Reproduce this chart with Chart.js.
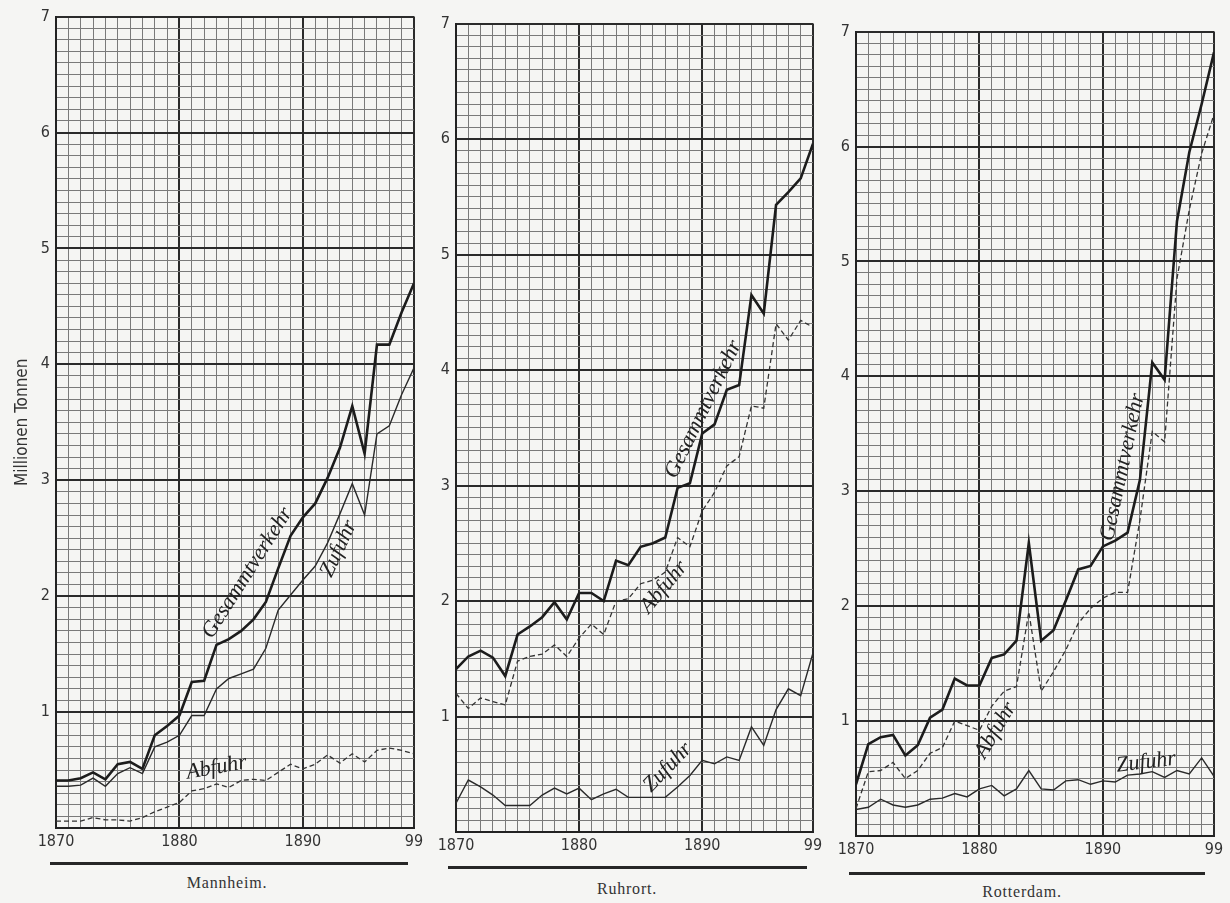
<!DOCTYPE html>
<html>
<head>
<meta charset="utf-8">
<script src="https://cdn.jsdelivr.net/npm/chart.js@4.4.0/dist/chart.umd.min.js"></script>
<style>
  body { margin: 0; background: #f5f5f3; }
  #page { position: relative; width: 1230px; height: 903px; overflow: hidden; }
  canvas { position: absolute; }
  .rule { position: absolute; height: 3px; background: #262626; }
  .city { position: absolute; width: 200px; text-align: center; font-family: "Liberation Serif", serif;
          font-size: 16px; letter-spacing: 0.8px; color: #333; }
</style>
</head>
<body>
<div id="page">
  <canvas id="chartMannheim" width="430" height="857" style="left:0px;top:1px"></canvas>
  <canvas id="chartRuhrort" width="417" height="854" style="left:412px;top:8px"></canvas>
  <canvas id="chartRotterdam" width="418" height="850" style="left:812px;top:16px"></canvas>

  <div class="rule" style="left:50px;top:862px;width:358px"></div>
  <div class="rule" style="left:448px;top:866px;width:359px"></div>
  <div class="rule" style="left:849px;top:872px;width:356px"></div>
  <div class="city" style="left:127px;top:874px">Mannheim.</div>
  <div class="city" style="left:527px;top:880px">Ruhrort.</div>
  <div class="city" style="left:922px;top:883px">Rotterdam.</div>
</div>
<script>
// Jahre 1870 - 1899
var jahre = [1870,1871,1872,1873,1874,1875,1876,1877,1878,1879,
             1880,1881,1882,1883,1884,1885,1886,1887,1888,1889,
             1890,1891,1892,1893,1894,1895,1896,1897,1898,1899];

// Mannheim (Millionen Tonnen)
var mannheimGesammt = [0.41,0.41,0.43,0.48,0.42,0.55,0.57,0.51,0.80,0.88,
                       0.97,1.26,1.27,1.58,1.63,1.70,1.80,1.95,2.24,2.52,
                       2.68,2.80,3.02,3.28,3.64,3.23,4.17,4.17,4.45,4.70];
var mannheimZufuhr  = [0.36,0.36,0.37,0.43,0.36,0.47,0.52,0.47,0.70,0.74,
                       0.80,0.97,0.97,1.20,1.29,1.33,1.37,1.55,1.88,2.01,
                       2.14,2.26,2.46,2.71,2.97,2.70,3.40,3.47,3.74,3.97];
var mannheimAbfuhr  = [0.06,0.06,0.06,0.09,0.07,0.07,0.06,0.09,0.14,0.18,
                       0.22,0.32,0.34,0.38,0.35,0.41,0.42,0.41,0.48,0.55,
                       0.51,0.55,0.63,0.56,0.64,0.57,0.67,0.69,0.67,0.64];

// Ruhrort
var ruhrortGesammt = [1.41,1.52,1.57,1.51,1.35,1.71,1.78,1.86,1.99,1.84,
                      2.07,2.07,2.00,2.35,2.31,2.47,2.50,2.55,2.98,3.02,
                      3.45,3.53,3.83,3.87,4.65,4.49,5.43,5.54,5.66,5.96];
var ruhrortAbfuhr  = [1.20,1.07,1.16,1.13,1.10,1.48,1.52,1.54,1.62,1.52,
                      1.68,1.80,1.71,2.00,2.02,2.15,2.18,2.25,2.55,2.47,
                      2.78,2.94,3.17,3.25,3.69,3.67,4.40,4.26,4.43,4.37];
var ruhrortZufuhr  = [0.25,0.45,0.39,0.32,0.23,0.23,0.23,0.32,0.38,0.33,
                      0.38,0.28,0.33,0.37,0.30,0.30,0.30,0.30,0.39,0.49,
                      0.62,0.59,0.65,0.62,0.91,0.75,1.06,1.24,1.18,1.55];

// Rotterdam
var rotterdamGesammt = [0.45,0.80,0.86,0.88,0.70,0.79,1.03,1.10,1.37,1.31,
                        1.31,1.55,1.58,1.70,2.55,1.70,1.79,2.05,2.32,2.35,
                        2.52,2.57,2.64,3.10,4.12,3.97,5.35,5.95,6.37,6.82];
var rotterdamAbfuhr  = [0.24,0.56,0.57,0.64,0.50,0.57,0.72,0.77,1.00,0.96,
                        0.92,1.13,1.26,1.30,1.95,1.26,1.43,1.62,1.85,1.98,
                        2.07,2.12,2.12,2.75,3.52,3.43,4.85,5.45,5.94,6.28];
var rotterdamZufuhr  = [0.23,0.25,0.32,0.27,0.25,0.27,0.32,0.33,0.37,0.34,
                        0.41,0.44,0.35,0.41,0.57,0.41,0.40,0.48,0.49,0.45,
                        0.48,0.47,0.53,0.54,0.56,0.51,0.57,0.54,0.68,0.52];

// Achsenbeschriftung
var xTickWerte = [1870, 1880, 1890, 1899];
var xTickText  = ['1870', '1880', '1890', '99'];
var yTickText  = ['1', '2', '3', '4', '5', '6', '7'];

var tickFont = { family: "'Liberation Sans Narrow', 'DejaVu Sans Condensed', sans-serif", size: 16 };
var schrift = "italic 22px 'Liberation Serif', serif";

function punkte(werte) {
  return jahre.map(function (j, i) { return { x: j, y: werte[i] }; });
}

// Beschriftung an den Linien
var linienText = {
  id: 'linienText',
  afterDatasetsDraw: function (chart, args, opts) {
    var c = chart.ctx;
    (opts.notes || []).forEach(function (n) {
      var px = chart.scales.x.getPixelForValue(n.jahr);
      var py = chart.scales.y.getPixelForValue(n.wert);
      c.save();
      c.translate(px, py);
      c.rotate(n.winkel * Math.PI / 180);
      c.font = schrift;
      c.fillStyle = '#222';
      c.textAlign = 'center';
      c.textBaseline = 'middle';
      c.fillText(n.text, 0, 0);
      c.restore();
    });
  }
};

function makePanel(id, gesammt, zufuhr, abfuhr, notes, yBreite, mitTitel) {
  var cxt = document.getElementById(id);
  return new Chart(cxt, {
    type: 'line',
    data: {
      datasets: [
        { label: 'Gesammtverkehr', data: punkte(gesammt), borderColor: '#1c1c1c', borderWidth: 2.6 },
        { label: 'Zufuhr', data: punkte(zufuhr), borderColor: '#2a2a2a', borderWidth: 1.4 },
        { label: 'Abfuhr', data: punkte(abfuhr), borderColor: '#333', borderWidth: 1.3, borderDash: [5, 3] }
      ]
    },
    options: {
      responsive: false,
      animation: false,
      elements: { point: { radius: 0 }, line: { tension: 0, fill: false } },
      layout: { padding: { top: 12, right: 16, left: 0, bottom: 0 } },
      plugins: { legend: { display: false }, tooltip: { enabled: false }, linienText: { notes: notes } },
      scales: {
        x: {
          type: 'linear', min: 1870, max: 1899,
          afterFit: function (s) { s.height = 30; },
          border: { display: true, color: '#222', width: 2 },
          grid: {
            drawTicks: false,
            color: function (ctx) { var v = ctx.tick.value; return (v % 10 === 0 || v === 1899) ? '#2b2b2b' : '#7a7a7a'; },
            lineWidth: function (ctx) { var v = ctx.tick.value; return (v % 10 === 0 || v === 1899) ? 2 : 1; }
          },
          ticks: {
            stepSize: 1, autoSkip: false, maxRotation: 0, padding: 4,
            color: '#333', font: tickFont,
            callback: function (v) { var i = xTickWerte.indexOf(v); return i >= 0 ? xTickText[i] : ''; }
          }
        },
        y: {
          min: 0, max: 7,
          afterFit: function (s) { s.width = yBreite; },
          border: { display: true, color: '#222', width: 2 },
          title: {
            display: mitTitel, text: 'Millionen Tonnen', color: '#333',
            font: { family: "'Liberation Sans Narrow', 'DejaVu Sans Condensed', sans-serif", size: 17 },
            padding: { top: 12, bottom: 0 }
          },
          grid: {
            drawTicks: false,
            color: function (ctx) { return Number.isInteger(ctx.tick.value) ? '#2b2b2b' : '#7a7a7a'; },
            lineWidth: function (ctx) { return Number.isInteger(ctx.tick.value) ? 2 : 1; }
          },
          ticks: {
            stepSize: 0.1, autoSkip: false, padding: 6,
            color: '#333', font: tickFont,
            callback: function (v) {
              if (!Number.isInteger(v) || v === 0) return '';
              return yTickText[v - 1];
            }
          }
        }
      }
    },
    plugins: [linienText]
  });
}

makePanel('chartMannheim', mannheimGesammt, mannheimZufuhr, mannheimAbfuhr, [
  { text: 'Gesammtverkehr', jahr: 1885.5, wert: 2.2, winkel: -57.6 },
  { text: 'Zufuhr', jahr: 1892.9, wert: 2.41, winkel: -65 },
  { text: 'Abfuhr', jahr: 1883.0, wert: 0.52, winkel: -10 }
], 56, true);

makePanel('chartRuhrort', ruhrortGesammt, ruhrortZufuhr, ruhrortAbfuhr, [
  { text: 'Gesammtverkehr', jahr: 1890.1, wert: 3.66, winkel: -64 },
  { text: 'Abfuhr', jahr: 1886.9, wert: 2.12, winkel: -50 },
  { text: 'Zufuhr', jahr: 1887.2, wert: 0.56, winkel: -46 }
], 44, false);

makePanel('chartRotterdam', rotterdamGesammt, rotterdamZufuhr, rotterdamAbfuhr, [
  { text: 'Gesammtverkehr', jahr: 1891.6, wert: 3.21, winkel: -78 },
  { text: 'Abfuhr', jahr: 1881.3, wert: 0.92, winkel: -59 },
  { text: 'Zufuhr', jahr: 1893.5, wert: 0.64, winkel: -7 }
], 44, false);
</script>
</body>
</html>
